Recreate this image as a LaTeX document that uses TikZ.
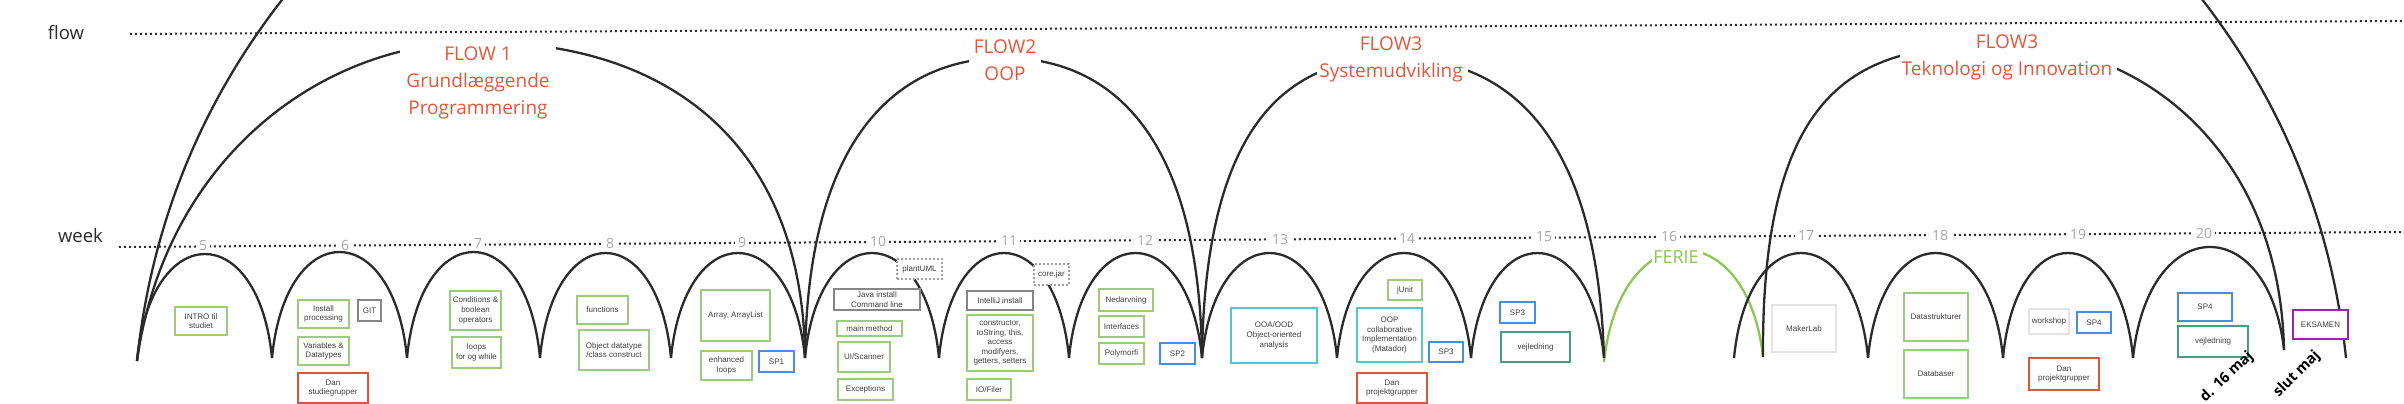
\documentclass[tikz,border=0pt]{standalone}
\usepackage{fontspec}
\setmainfont{Liberation Sans}
\newfontfamily\osans{Open Sans}
\definecolor{cgreen}{HTML}{9BCB7B}
\definecolor{cred}{HTML}{E0533B}
\definecolor{cgray}{HTML}{868686}
\definecolor{cdash}{HTML}{A0A0A0}
\definecolor{cblue}{HTML}{4A8BE5}
\definecolor{ccyan}{HTML}{56C5CF}
\definecolor{cteal}{HTML}{44A081}
\definecolor{clight}{HTML}{E3E3E3}
\definecolor{cpurple}{HTML}{9028B0}
\definecolor{cflow}{HTML}{E4573D}
\definecolor{cferie}{HTML}{8CC753}
\definecolor{cnum}{HTML}{A8A8A8}
\definecolor{cline}{HTML}{2B2B2B}
\definecolor{ctext}{HTML}{404040}
\tikzset{
  arcline/.style={draw=cline, line width=2.3pt},
  feriearc/.style={draw=cferie},
  dotline/.style={draw=cline, line width=2pt, dash pattern=on 1.8pt off 3.2pt},
  wnum/.style={fill=white, text=cnum, font=\osans\fontsize{14}{14}\selectfont, inner xsep=3pt, inner ysep=0pt},
  axislabel/.style={text=cline, font=\osans\fontsize{18.5}{20}\selectfont, inner sep=0pt},
  flowlabel/.style={text=cflow, font=\osans\fontsize{19}{27}\selectfont, align=center, inner sep=0pt},
  ferielabel/.style={text=cferie, font=\osans\fontsize{18}{20}\selectfont, inner sep=0pt},
  cover/.style={fill=white, draw=none, inner sep=0pt},
  box/.style={draw, fill=white, line width=2.5pt, align=center, inner sep=0pt, text=ctext, font=\fontsize{8}{9.6}\selectfont},
  gbox/.style={box, draw=cgreen},
  rbox/.style={box, draw=cred},
  graybox/.style={box, draw=cgray},
  dbox/.style={box, draw=cdash, line width=2pt, dash pattern=on 2pt off 2pt},
  bbox/.style={box, draw=cblue},
  cbox/.style={box, draw=ccyan},
  tbox/.style={box, draw=cteal},
  lbox/.style={box, draw=clight},
  pbox/.style={box, draw=cpurple},
  datelabel/.style={font=\osans\bfseries\fontsize{14.5}{16}\selectfont, text=black, inner sep=0pt},
}
\newcommand\mybox[7]{%
  \pgfmathsetmacro\bxw{#4-#3}\pgfmathsetmacro\bxh{#6-#5}%
  \pgfmathsetmacro\bxx{(#3+#4)/2}\pgfmathsetmacro\bxy{(#5+#6)/2}%
  \node[#2, minimum width=\bxw pt, minimum height=\bxh pt] (#1) at (\bxx,\bxy) {#7};}
\newcommand\wkarc[6][]{%
  \pgfmathsetmacro\hc{0.1*(#4-#2)}%
  \pgfmathsetmacro\hH{(#6-(#3+#5)/8)/0.75}%
  \draw[arcline,#1] (#2,#3) .. controls ({#2+\hc},\hH) and ({#4-\hc},\hH) .. (#4,#5);}
\begin{document}
\begin{tikzpicture}[x=1pt,y=-1pt]
\useasboundingbox (0,0) rectangle (2404,404);
\fill[white] (0,0) rectangle (2404,404);
% axis labels and dotted lines
\node[axislabel] (flowlbl) at (66,33) {flow};
\node[axislabel] (weeklbl) at (80.5,235.5) {week};
\coordinate (fl1) at (130,34);
\coordinate (fl2) at (2404,21);
\coordinate (wl1) at (119,247);
\coordinate (wl2) at (2404,232);
\draw[dotline] (fl1) -- (fl2);
\draw[dotline] (wl1) -- (wl2);
% week numbers
\node[wnum] (w5) at (203,246) {5};
\node[wnum] (w6) at (345,245) {6};
\node[wnum] (w7) at (478,244) {7};
\node[wnum] (w8) at (610,243) {8};
\node[wnum] (w9) at (742,242) {9};
\node[wnum] (w10) at (878,241.5) {10};
\node[wnum] (w11) at (1009,241) {11};
\node[wnum] (w12) at (1145,240) {12};
\node[wnum] (w13) at (1280,239) {13};
\node[wnum] (w14) at (1407,238) {14};
\node[wnum] (w15) at (1544,237) {15};
\node[wnum] (w16) at (1669,236.5) {16};
\node[wnum] (w17) at (1806,236) {17};
\node[wnum] (w18) at (1940,235) {18};
\node[wnum] (w19) at (2078,234) {19};
\node[wnum] (w20) at (2204,233) {20};
% week arcs
\wkarc{137}{361}{272}{358}{254}
\wkarc{272}{358}{407}{358}{252}
\wkarc{407}{358}{540}{358}{252}
\wkarc{540}{358}{671}{358}{253}
\wkarc{671}{358}{805}{358}{253}
\wkarc{805}{358}{939}{358}{253}
\wkarc{939}{358}{1069}{358}{253}
\wkarc{1069}{358}{1202}{358}{253}
\wkarc{1202}{358}{1337}{358}{253}
\wkarc{1337}{358}{1471}{358}{253}
\wkarc{1471}{358}{1604}{358}{253}
\wkarc[feriearc]{1604}{362}{1763}{357}{250}
\wkarc{1734}{358}{1868}{358}{253}
\wkarc{1868}{358}{2003}{358}{253}
\wkarc{2003}{358}{2133}{358}{253}
\wkarc{2133}{358}{2284}{350}{247}
% huge arc
\draw[arcline] (137,361) .. controls (242,-639) and (2241,-639) .. (2346,358);
% flow arcs
\draw[arcline] (137,361) .. controls (165,160) and (320,42) .. (478,42) .. controls (670,42) and (803,145) .. (805,358);
\draw[arcline] (805,358) .. controls (808,115) and (915,58) .. (1005,58) .. controls (1095,58) and (1199,115) .. (1202,358);
\draw[arcline] (1202,358) .. controls (1205,120) and (1290,58) .. (1395,58) .. controls (1520,58) and (1598,150) .. (1604,358);
\draw[arcline] (1763,357) .. controls (1761,60) and (1880,45) .. (2010,45) .. controls (2140,45) and (2280,150) .. (2284,350);
% covers and flow labels
\node[cover, minimum width=156pt, minimum height=80pt] (cov1) at (478,79) {};
\node[cover, minimum width=72pt, minimum height=52pt] (cov2) at (1005,62) {};
\node[cover, minimum width=151pt, minimum height=40pt] (cov3) at (1392.5,72) {};
\node[cover, minimum width=217pt, minimum height=50pt] (cov4) at (2008.5,65) {};
\node[cover, minimum width=51pt, minimum height=22pt] (covf) at (1677.5,257) {};
\node[flowlabel] (flow1) at (478,83) {FLOW 1\\Grundlæggende\\Programmering};
\node[flowlabel] (flow2) at (1005,60) {FLOW2\\OOP};
\node[flowlabel] (flow3) at (1391,59.3) {FLOW3\\Systemudvikling};
\node[flowlabel] (flow4) at (2007,57.3) {FLOW3\\Teknologi og Innovation};
\node[ferielabel] (ferie) at (1676,257) {FERIE};
% boxes
\mybox{intro}{gbox}{175}{227}{307}{335}{INTRO til\\studiet}
\mybox{install}{gbox}{298}{349}{300}{328}{Install\\processing}
\mybox{git}{graybox}{358}{381}{300}{321}{GIT}
\mybox{vars}{gbox}{298}{349}{337}{365}{Variables \&\\Datatypes}
\mybox{dan1}{rbox}{298}{368}{373}{403}{Dan\\studiegrupper}
\mybox{cond}{gbox}{450}{501}{291}{330}{Conditions \&\\boolean\\operators}
\mybox{loops}{gbox}{452}{501}{337}{368}{loops\\for og while}
\mybox{functions}{gbox}{577}{628}{296}{324}{functions}
\mybox{object}{gbox}{579}{649}{330}{370}{Object datatype\\/class construct}
\mybox{array}{gbox}{701}{770}{290}{341}{Array, ArrayList}
\mybox{enhanced}{gbox}{701}{752}{351}{380}{enhanced\\loops}
\mybox{sp1}{bbox}{759}{794}{351}{372}{SP1}
\mybox{plantuml}{dbox}{897}{942}{259}{279}{plantUML}
\mybox{java}{graybox}{834}{920}{289}{310}{Java install\\Command line}
\mybox{main}{gbox}{837}{902}{321}{336}{main method}
\mybox{ui}{gbox}{838}{890}{342}{372}{UI/Scanner}
\mybox{exceptions}{gbox}{838}{893}{379}{400}{Exceptions}
\mybox{corejar}{dbox}{1034}{1069}{264}{285}{core.jar}
\mybox{intellij}{graybox}{967}{1033}{291}{310}{IntelliJ install}
\mybox{constructor}{gbox}{967}{1033}{315}{371}{constructor,\\toString, this,\\access\\modifyers,\\getters, setters}
\mybox{io}{gbox}{967}{1011}{379}{400}{IO/Filer}
\mybox{nedarvning}{gbox}{1099}{1153}{289}{311}{Nedarvning}
\mybox{interfaces}{gbox}{1099}{1144}{316}{337}{Interfaces}
\mybox{polymorfi}{gbox}{1099}{1144}{343}{364}{Polymorfi}
\mybox{sp2}{bbox}{1160}{1195}{343}{364}{SP2}
\mybox{ooa}{cbox}{1231}{1317}{308}{363}{OOA/OOD\\Object-oriented\\analysis}
\mybox{junit}{gbox}{1388}{1422}{280}{300}{jUnit}
\mybox{oopc}{cbox}{1357}{1422}{308}{362}{OOP\\collaborative\\Implementation\\(Matador)}
\mybox{sp3a}{bbox}{1429}{1463}{342}{362}{SP3}
\mybox{dan2}{rbox}{1357}{1427}{373}{403}{Dan\\projektgrupper}
\mybox{sp3b}{bbox}{1500}{1535}{302}{323}{SP3}
\mybox{vejl1}{tbox}{1501}{1570}{332}{362}{vejledning}
\mybox{makerlab}{lbox}{1772}{1836}{305}{352}{MakerLab}
\mybox{datastr}{gbox}{1904}{1968}{293}{341}{Datastrukturer}
\mybox{databaser}{gbox}{1904}{1968}{350}{398}{Databaser}
\mybox{workshop}{lbox}{2029}{2069}{309}{334}{workshop}
\mybox{sp4a}{bbox}{2077}{2111}{312}{333}{SP4}
\mybox{dan3}{rbox}{2029}{2099}{358}{390}{Dan\\projektgrupper}
\mybox{sp4b}{bbox}{2178}{2232}{293}{321}{SP4}
\mybox{vejl2}{tbox}{2178}{2248}{326}{357}{vejledning}
\mybox{eksamen}{pbox}{2293}{2348}{310}{339}{EKSAMEN}
% dates
\node[datelabel, rotate=43] (d16) at (2227,377) {d. 16 maj};
\node[datelabel, rotate=45] (slut) at (2297,374) {slut maj};
\end{tikzpicture}
\end{document}
